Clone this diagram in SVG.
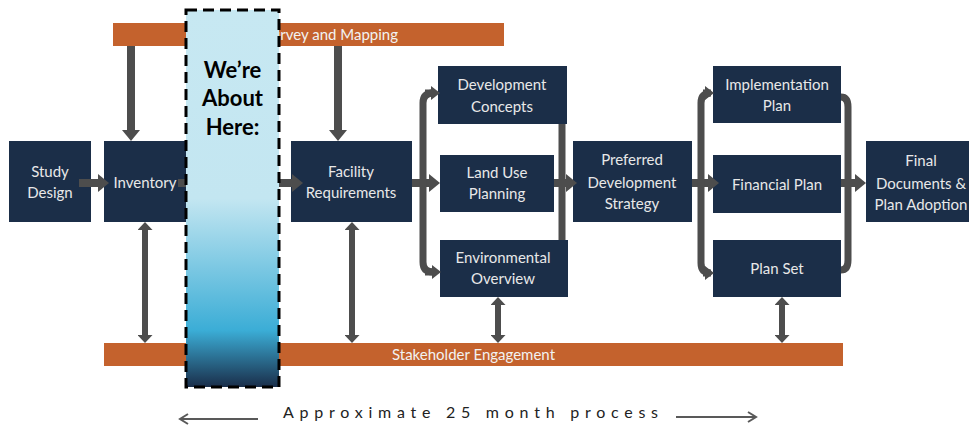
<svg xmlns="http://www.w3.org/2000/svg" width="969" height="428" viewBox="0 0 969 428">
<defs>
<style>
.box{fill:#1b2e48}
.bt{font-family:Lato,"Liberation Sans",sans-serif;font-size:15px;fill:#e8e8e8;text-anchor:middle}
.bar{fill:#c4622d}
.bart{font-family:Lato,"Liberation Sans",sans-serif;font-size:15px;fill:#f2f2f2}
.ar{stroke:#4d4d4d;stroke-width:8;fill:none}
.br{stroke:#4d4d4d;stroke-width:7;fill:none}
.dbl{stroke:#4d4d4d;stroke-width:6;fill:none}
.thin{stroke:#595959;stroke-width:2;fill:none}
</style>
<marker id="ah" markerUnits="userSpaceOnUse" markerWidth="11" markerHeight="18" refX="0" refY="9" orient="auto">
<path d="M0,0 L11,9 L0,18 z" fill="#4d4d4d"/>
</marker>
<marker id="ahs" markerUnits="userSpaceOnUse" markerWidth="9" markerHeight="14" refX="0" refY="7" orient="auto">
<path d="M0,0 L9,7 L0,14 z" fill="#4d4d4d"/>
</marker>
<marker id="ahd" markerUnits="userSpaceOnUse" markerWidth="8" markerHeight="15" refX="0" refY="7.5" orient="auto-start-reverse">
<path d="M0,0 L8,7.5 L0,15 z" fill="#4d4d4d"/>
</marker>
<linearGradient id="here" x1="0" y1="0" x2="0" y2="1">
<stop offset="0" stop-color="#c7e8f2"/>
<stop offset="0.5" stop-color="#c3e6f1"/>
<stop offset="0.85" stop-color="#3badd6"/>
<stop offset="1" stop-color="#1a2e4a"/>
</linearGradient>
</defs>

<g id="survey-bar">
<rect class="bar" x="113" y="23" width="391" height="23"/>
<text class="bart" x="398" y="40" text-anchor="end">Survey and Mapping</text>
</g>
<g id="stakeholder-bar">
<rect class="bar" x="104" y="343" width="739" height="23"/>
<text class="bart" x="473.5" y="360" text-anchor="middle">Stakeholder Engagement</text>
</g>

<g id="study-design"><rect class="box" x="9" y="141" width="82" height="81"/><text class="bt" x="50" y="177">Study</text><text class="bt" x="50" y="198">Design</text></g>
<g id="inventory"><rect class="box" x="104" y="141" width="82" height="81"/><text class="bt" x="145" y="188">Inventory</text></g>
<g id="facility-requirements"><rect class="box" x="291" y="141" width="121" height="81"/><text class="bt" x="351" y="177">Facility</text><text class="bt" x="351" y="198">Requirements</text></g>
<g id="development-concepts"><rect class="box" x="438" y="66" width="129" height="58"/><text class="bt" x="502" y="90">Development</text><text class="bt" x="502" y="112">Concepts</text></g>
<g id="land-use-planning"><rect class="box" x="440" y="155" width="114" height="57"/><text class="bt" x="497" y="178">Land Use</text><text class="bt" x="497" y="199">Planning</text></g>
<g id="environmental-overview"><rect class="box" x="440" y="240" width="128" height="57"/><text class="bt" x="503" y="263">Environmental</text><text class="bt" x="503" y="284">Overview</text></g>
<g id="preferred-development-strategy"><rect class="box" x="573" y="141" width="119" height="81"/><text class="bt" x="632" y="165">Preferred</text><text class="bt" x="632" y="188">Development</text><text class="bt" x="632" y="209">Strategy</text></g>
<g id="implementation-plan"><rect class="box" x="713" y="66" width="128" height="57"/><text class="bt" x="777" y="90">Implementation</text><text class="bt" x="777" y="111">Plan</text></g>
<g id="financial-plan"><rect class="box" x="713" y="155" width="128" height="58"/><text class="bt" x="777" y="190">Financial Plan</text></g>
<g id="plan-set"><rect class="box" x="713" y="240" width="128" height="57"/><text class="bt" x="777" y="274">Plan Set</text></g>
<g id="final-documents"><rect class="box" x="866" y="141" width="112" height="81"/><text class="bt" x="921" y="166">Final</text><text class="bt" x="921" y="189">Documents &amp;</text><text class="bt" x="921" y="210">Plan Adoption</text></g>

<g id="connectors">
<line class="ar" x1="131" y1="46" x2="131" y2="130" marker-end="url(#ah)"/>
<line class="ar" x1="338" y1="46" x2="338" y2="130" marker-end="url(#ah)"/>
<line class="ar" x1="79" y1="183" x2="98" y2="183" marker-end="url(#ah)"/>
<line class="ar" x1="178" y1="183" x2="292" y2="183" marker-end="url(#ah)"/>
<line class="ar" x1="412" y1="183" x2="429" y2="183" marker-end="url(#ah)"/>
<path class="br" d="M430,93 H433 Q423,93 423,103 V262 Q423,272 433,272 H430" />
<line class="br" x1="425" y1="93" x2="431" y2="93" marker-end="url(#ahs)"/>
<line class="br" x1="425" y1="272" x2="432" y2="272" marker-end="url(#ahs)"/>
<line class="br" x1="562" y1="124" x2="562" y2="240"/>
<line class="ar" x1="554" y1="183" x2="566" y2="183" marker-end="url(#ah)"/>
<line class="ar" x1="692" y1="183" x2="708" y2="183" marker-end="url(#ah)"/>
<path class="br" d="M705,93 H711 Q701,93 701,103 V263 Q701,273 711,273 H705"/>
<line class="br" x1="703" y1="93" x2="705" y2="93" marker-end="url(#ahs)"/>
<line class="br" x1="703" y1="273" x2="705" y2="273" marker-end="url(#ahs)"/>
<path class="br" d="M841,97 Q848,97 848,107 V260 Q848,270 841,270"/>
<line class="ar" x1="841" y1="183" x2="855" y2="183" marker-end="url(#ah)"/>
<line class="dbl" x1="145" y1="230" x2="145" y2="335" marker-start="url(#ahd)" marker-end="url(#ahd)"/>
<line class="dbl" x1="352" y1="230" x2="352" y2="335" marker-start="url(#ahd)" marker-end="url(#ahd)"/>
<line class="dbl" x1="498" y1="305" x2="498" y2="335" marker-start="url(#ahd)" marker-end="url(#ahd)"/>
<line class="dbl" x1="782" y1="305" x2="782" y2="335" marker-start="url(#ahd)" marker-end="url(#ahd)"/>
</g>

<g id="were-about-here">
<rect x="186" y="10" width="93" height="377" fill="url(#here)" stroke="#000" stroke-width="3" stroke-dasharray="11,6"/>
<text x="232.5" y="78" font-family="Lato,'Liberation Sans',sans-serif" font-size="22" font-weight="bold" fill="#000" text-anchor="middle">We’re</text>
<text x="232.5" y="106" font-family="Lato,'Liberation Sans',sans-serif" font-size="22" font-weight="bold" fill="#000" text-anchor="middle">About</text>
<text x="232.5" y="135" font-family="Lato,'Liberation Sans',sans-serif" font-size="22" font-weight="bold" fill="#000" text-anchor="middle">Here:</text>
</g>

<g id="timeline">
<text x="283" y="418" font-family="Lato,'Liberation Sans',sans-serif" font-size="16" fill="#222" textLength="375" lengthAdjust="spacing">Approximate 25 month process</text>
<line class="thin" x1="258" y1="419" x2="181" y2="419"/>
<polyline class="thin" points="188,414 180,419 188,424"/>
<line class="thin" x1="676" y1="417" x2="755" y2="417"/>
<polyline class="thin" points="748,412 756,417 748,422"/>
</g>
</svg>
